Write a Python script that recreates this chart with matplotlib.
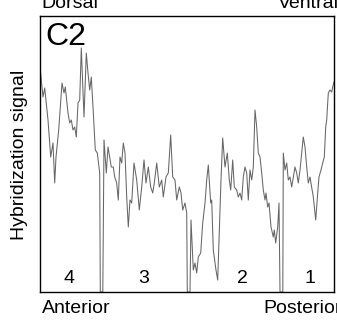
import numpy as np
import matplotlib
matplotlib.use('Agg')
import matplotlib.pyplot as plt

plt.rcParams['font.family'] = ['Liberation Sans', 'DejaVu Sans']

# posição ao longo do eixo antero-posterior (unidades arbitrárias) e sinal de hibridização
posicao = [0, 3, 4.7, 8, 10.7, 13, 14.7, 16, 18.7, 22, 24, 25.3, 28, 29.7, 31.3, 33, 34.7, 36.3,
           38, 39.7, 41.3, 44, 46.3, 48, 49.7, 51.3, 53, 55.3, 57.3, 59.7, 60.3, 62.8, 64,
           66.3, 68, 69.7, 71.3, 73.3, 74.7, 76.7, 78.3, 80, 81.7, 83.3, 85, 86.7, 88.3, 90,
           91.7, 94, 96.7, 99.3, 101.7, 104, 106, 108.3, 110.7, 112.7, 114.3, 116.7, 119.3,
           121.7, 123.3, 126, 128.3, 130.7, 132.7, 135, 136.7, 139.3, 141, 142.7, 145, 146.7,
           147.3, 150, 151, 153.3, 155, 156.7, 158.3, 160.7, 162.7, 165, 166.7, 168.3, 170.7,
           171.7, 173.3, 176, 177.7, 179.3, 181, 182.7, 185, 187.3, 189.3, 190.7, 192.7, 194.3,
           196.7, 198.3, 200, 201.7, 203.3, 205, 206.7, 208.3, 210, 211.7, 213.3, 215, 216.7,
           218.3, 220, 221.7, 223.3, 225, 226, 227.7, 229, 231, 233.3, 234.3, 235.7, 237.7,
           239, 240, 242.8, 243.3, 245, 246.7, 248.3, 250, 251.7, 253.3, 255, 256.7, 258.3,
           260, 263.3, 265, 266.7, 268.3, 270, 271.7, 273.3, 275.7, 277.7, 279, 281, 282.7,
           284.3, 285.7, 286.7, 288.3, 290, 291.7, 292.7, 294]
sinal = [225, 195, 204, 172, 135, 149, 109, 135, 162, 209, 199, 205, 179, 169, 172, 162, 165, 155,
         189, 192, 244, 175, 239, 219, 202, 215, 185, 142, 139, 119, 0, 0, 152,
         119, 145, 135, 125, 125, 115, 109, 92, 135, 129, 149, 139, 95, 65, 92,
         89, 129, 112, 82, 105, 132, 109, 125, 105, 99, 109, 129, 105,
         112, 95, 115, 119, 157, 115, 112, 92, 105, 99, 82, 89, 79,
         0, 0, 72, 22, 29, 19, 35, 39, 69, 89, 112, 127, 89,
         92, 42, 22, 12, 59, 112, 154, 125, 139, 112, 102, 132, 105,
         102, 95, 99, 92, 115, 125, 119, 92, 122, 112, 125, 182, 165,
         139, 135, 119, 102, 92, 99, 85, 89, 65, 55, 62, 49, 65,
         89, 0, 0, 139, 122, 129, 112, 115, 105, 115, 125, 119, 109,
         122, 155, 145, 125, 109, 115, 105, 95, 72, 99, 115, 122, 129,
         135, 165, 172, 199, 202, 200, 205, 210]

regioes = ['4', '3', '2', '1']
centro_regioes = [29, 104, 202, 270]

fig = plt.figure(figsize=(3.37, 3.26), dpi=100)
ax = fig.add_axes([40 / 337, 34 / 326, 294 / 337, 276 / 326])

ax.plot(posicao, sinal, color='0.4', linewidth=0.75)
ax.set_xlim(0, 294)
ax.set_ylim(0, 276)
ax.set_xticks([])
ax.set_yticks([])
for s in ax.spines.values():
    s.set_linewidth(1.0)
    s.set_color('black')

# números das regiões
for nome, cx in zip(regioes, centro_regioes):
    ax.text(cx, 9, nome, ha='center', va='baseline', fontsize=14)

ax.text(5, 247, 'C2', ha='left', va='baseline', fontsize=23)

fig.text(41 / 337, 1 - 8 / 326, 'Dorsal', ha='left', va='baseline', fontsize=14)
fig.text(278 / 337, 1 - 8 / 326, 'Ventral', ha='left', va='baseline', fontsize=14)
fig.text(41.5 / 337, 1 - 313 / 326, 'Anterior', ha='left', va='baseline', fontsize=14)
fig.text(263 / 337, 1 - 313 / 326, 'Posterior', ha='left', va='baseline', fontsize=14)
fig.text(20 / 337, 1 - 155 / 326, 'Hybridization signal', rotation=90,
         ha='center', va='center', fontsize=14)

plt.savefig('out.png', dpi=100)
